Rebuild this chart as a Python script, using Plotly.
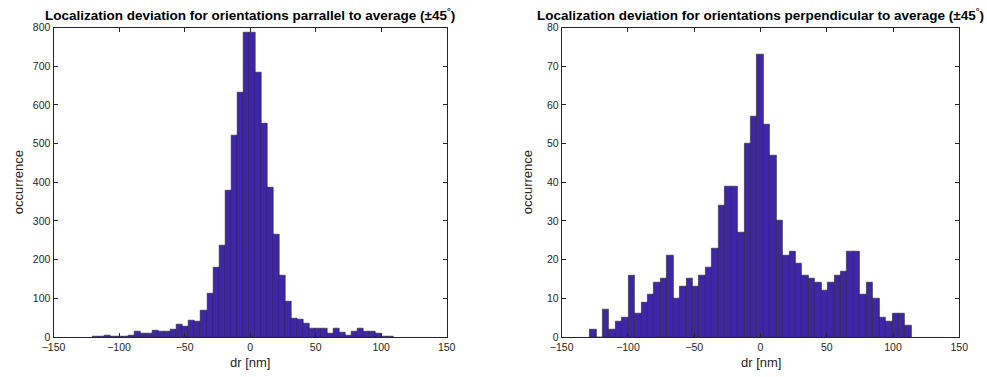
import numpy as np
import plotly.graph_objects as go

# ---- data ----
left_counts = [1, 1, 5, 2, 1, 2, 3, 13, 8, 10,
               17, 13, 13, 19, 32, 28, 43, 41, 68, 113,
               180, 236, 378, 520, 632, 786, 786, 683, 551, 386,
               264, 159, 91, 49, 45, 36, 22, 21, 22, 9,
               22, 11, 5, 15, 23, 15, 13, 9, 2, 1]
right_counts = [2, 0, 7, 2, 4, 5, 16, 6, 9, 11,
                14, 15, 21, 10, 13, 15, 13, 16, 18, 23,
                34, 39, 39, 27, 50, 57, 73, 55, 47, 30,
                21, 22, 19, 16, 15, 14, 12, 14, 16, 17,
                22, 22, 11, 14, 10, 5, 4, 6, 6, 3]
left_first_center = -117.8
left_bin_width = 4.59
right_first_center = -126.4
right_bin_width = 4.856
x_ticks = [-150, -100, -50, 0, 50, 100, 150]
left_y_ticks = [0, 100, 200, 300, 400, 500, 600, 700, 800]
right_y_ticks = [0, 10, 20, 30, 40, 50, 60, 70, 80]
left_title = "Localization deviation for orientations parrallel to average (\u00b145<sup>\u00b0</sup>)"
right_title = "Localization deviation for orientations perpendicular to average (\u00b145<sup>\u00b0</sup>)"
x_label = "dr [nm]"
y_label = "occurrence"

left_centers = left_first_center + left_bin_width * np.arange(len(left_counts))
right_centers = right_first_center + right_bin_width * np.arange(len(right_counts))

W, H = 987, 377
bar_color = "rgb(62,38,168)"
edge = dict(color="#262626", width=0.6)
axis_color = "#262626"
FONT = "Liberation Sans, Arial, Helvetica, sans-serif"

fig = go.Figure()
fig.add_trace(go.Bar(x=left_centers, y=left_counts, width=left_bin_width,
                     marker=dict(color=bar_color, line=edge),
                     xaxis="x", yaxis="y", hoverinfo="x+y"))
fig.add_trace(go.Bar(x=right_centers, y=right_counts, width=right_bin_width,
                     marker=dict(color=bar_color, line=edge),
                     xaxis="x2", yaxis="y2", hoverinfo="x+y"))

lx0, lx1 = 53.5 / W, 446.7 / W
rx0, rx1 = 561.7 / W, 959.3 / W
yb, yt = (H - 337) / H, (H - 27.5) / H

common = dict(showline=True, linecolor=axis_color, linewidth=1, mirror="ticks",
              ticks="inside", ticklen=4, tickcolor=axis_color, tickwidth=1,
              showgrid=False, zeroline=False, automargin=False,
              tickfont=dict(family=FONT, size=10.5, color=axis_color))

fig.update_layout(
    width=W, height=H, margin=dict(l=0, r=0, t=0, b=0, autoexpand=False),
    paper_bgcolor="white", plot_bgcolor="white",
    showlegend=False, bargap=0, barmode="overlay",
    font=dict(family=FONT, color=axis_color),
    xaxis=dict(domain=[lx0, lx1], range=[-150, 150], tickvals=x_ticks, anchor="y", **common),
    yaxis=dict(domain=[yb, yt], range=[0, 800], tickvals=left_y_ticks, anchor="x", **common),
    xaxis2=dict(domain=[rx0, rx1], range=[-150, 150], tickvals=x_ticks, anchor="y2", **common),
    yaxis2=dict(domain=[yb, yt], range=[0, 80], tickvals=right_y_ticks, anchor="x2", **common),
)

ann = []
ty = (H - 14.5) / H
for cx, t in [((lx0 + lx1) / 2, left_title), ((rx0 + rx1) / 2, right_title)]:
    ann.append(dict(text="<b>" + t + "</b>", x=cx, y=ty, xref="paper", yref="paper",
                    showarrow=False, font=dict(family=FONT, size=13.5, color="black"),
                    xanchor="center", yanchor="middle"))
xly = (H - 362) / H
for cx in [(lx0 + lx1) / 2, (rx0 + rx1) / 2]:
    ann.append(dict(text=x_label, x=cx, y=xly, xref="paper", yref="paper", showarrow=False,
                    font=dict(family=FONT, size=13, color=axis_color), xanchor="center", yanchor="middle"))
ymid = (yb + yt) / 2
for px in [18, 527]:
    ann.append(dict(text=y_label, x=px / W, y=ymid, xref="paper", yref="paper", showarrow=False,
                    textangle=-90, font=dict(family=FONT, size=13, color=axis_color),
                    xanchor="center", yanchor="middle"))
fig.update_layout(annotations=ann)

fig.write_html("out.html", config={"displayModeBar": False},
               post_script="document.body.style.margin='0';document.body.style.padding='0';document.body.style.overflow='hidden';")
